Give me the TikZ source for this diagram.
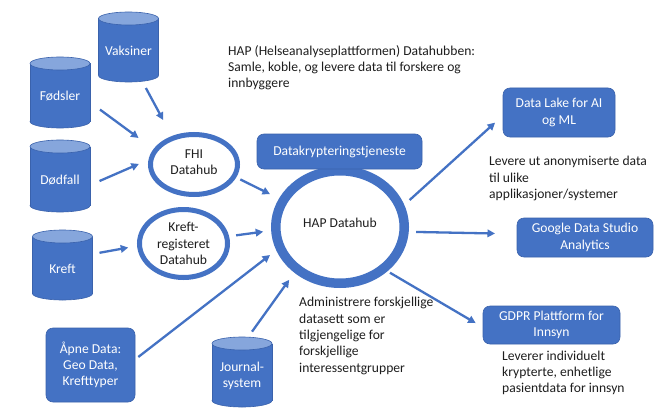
\documentclass[tikz,border=0pt]{standalone}
\usepackage{fontspec}
\setmainfont{Carlito}
\usetikzlibrary{arrows.meta,shapes.geometric}

\definecolor{hubblue}{HTML}{4472C4}
\definecolor{hubedge}{HTML}{3A62AC}
\definecolor{cyltop}{HTML}{86A6DC}
\definecolor{ink}{HTML}{1E1E1E}

\newcommand\txt{\fontsize{13.6}{16.3}\selectfont}

% database cylinder: name, centre x, top y, bottom y, label
\newcommand\dbcyl[5]{%
  \node[cylslot, minimum height={#4-#3}] (#1) at (#2,{(#3+#4)/2}) {};
  \filldraw[cylpart] (#2,{#4-6.5}) ellipse [x radius=30, y radius=6.5];
  \fill[hubblue] ({#2-30},{#3+6.5}) rectangle ({#2+30},{#4-6.5});
  \draw[hubedge, line width=0.6pt] ({#2-30},{#3+6.5}) -- ({#2-30},{#4-6.5})
                                   ({#2+30},{#3+6.5}) -- ({#2+30},{#4-6.5});
  \filldraw[cylpart, fill=cyltop] (#2,{#3+6.5}) ellipse [x radius=30, y radius=6.5];
  \node[celltext] at (#2,{(#3+#4+8)/2}) {#5};
}

\tikzset{
  cylslot/.style={rectangle, minimum width=60pt, inner sep=0pt, outer sep=0pt},
  cylpart/.style={fill=hubblue, draw=hubedge, line width=0.6pt},
  celltext/.style={text=white, align=center, font=\txt, inner sep=0pt},
  bluebox/.style={rectangle, rounded corners=7pt, fill=hubblue, draw=hubedge,
    line width=0.6pt, text=white, align=center, font=\txt, inner sep=0pt, outer sep=0pt},
  ring/.style={ellipse, draw=hubblue, fill=white, inner sep=0pt},
  ringtext/.style={text=ink, align=center, font=\txt, inner sep=0pt},
  note/.style={text=ink, align=left, font=\txt, inner sep=0pt, anchor=west},
  flow/.style={draw=hubblue, line width=2.3pt, -{Triangle[length=7.5pt,width=7.5pt]}},
}

\begin{document}
\begin{tikzpicture}[x=1pt, y=-1pt]
  \fill[white] (0,0) rectangle (660,409);
  \useasboundingbox (0,0) rectangle (660,409);

  % source registers
  \dbcyl{vax}{128.5}{12}{82}{Vaksiner}
  \dbcyl{fod}{60}{57}{128}{Fødsler}
  \dbcyl{dod}{60}{140}{212}{Dødfall}
  \dbcyl{kre}{62.5}{230}{300}{Kreft}
  \dbcyl{jou}{242}{337}{407}{Journal-\\system}

  \node[bluebox, minimum width=89pt, minimum height=74pt] (apne) at (90.5,365)
    {Åpne Data:\\Geo Data,\\Krefttyper};

  % hubs
  \node[ring, line width=5pt, outer sep=2.5pt, minimum width=87pt, minimum height=60pt] (fhi) at (194,164.5) {};
  \node[ringtext] at (194,162) {FHI\\Datahub};
  \node[ring, line width=5pt, outer sep=2.5pt, minimum width=88pt, minimum height=68pt] (krg) at (183.5,243.5) {};
  \node[ringtext] at (183.5,243.6) {Kreft-\\registeret\\Datahub};
  \node[ring, line width=9.5pt, outer sep=4.75pt, minimum width=128.5pt, minimum height=112.5pt] (hap) at (340,227) {};
  \node[ringtext] at (340,223) {HAP Datahub};

  \node[bluebox, minimum width=165pt, minimum height=35pt] (krypt) at (339.5,151.5) {Datakrypteringstjeneste};

  % consumers
  \node[bluebox, minimum width=112pt, minimum height=49pt] (dlk) at (559,112.5) {Data Lake for AI\\og ML};
  \node[bluebox, minimum width=136pt, minimum height=39pt] (gds) at (585,237.5) {Google Data Studio\\Analytics};
  \node[bluebox, minimum width=137pt, minimum height=38pt] (gdpr) at (551.5,325) {GDPR Plattform for\\Innsyn};

  % descriptions
  \node[note] (head) at (228,67.5) {HAP (Helseanalyseplattformen) Datahubben:\\Samle, koble, og levere data til forskere og\\innbyggere};
  \node[note] (lev) at (489,178.5) {Levere ut anonymiserte data\\til ulike\\applikasjoner/systemer};
  \node[note] (adm) at (299,336) {Administrere forskjellige\\datasett som er\\tilgjengelige for\\forskjellige\\interessentgrupper};
  \node[note] (ind) at (502,373) {Leverer individuelt\\krypterte, enhetlige\\pasientdata for innsyn};

  % data flows
  \draw[flow, shorten <=6.8pt, shorten >=18.2pt] (vax.-68) -- (fhi.128);
  \draw[flow, shorten <=12.4pt, shorten >=18.6pt] (fod.-18.6) -- (fhi.159.6);
  \draw[flow, shorten <=10.4pt, shorten >=10.5pt] (dod.-17.7) -- (fhi.174.6);
  \draw[flow, shorten <=4.6pt, shorten >=10pt] (fhi.-17.9) -- (hap.155);
  \draw[flow, shorten <=7.1pt, shorten >=9pt] (kre.20) -- (krg.183);
  \draw[flow, shorten <=7.1pt, shorten >=8pt] (krg.9.5) -- (hap.183);
  \draw[flow, shorten <=4.2pt, shorten >=7.8pt] (apne.7.3) -- (hap.200);
  \draw[flow, shorten <=6.6pt, shorten >=8.8pt] (jou.80.6) -- (hap.225);
  \draw[flow, shorten <=7.2pt, shorten >=10.7pt] (hap.19.7) -- (dlk.183.2);
  \draw[flow, shorten <=7.25pt, shorten >=22pt] (hap.-4.2) -- (gds.177.8);
  \draw[flow, shorten <=2.9pt, shorten >=8.5pt] (hap.-43) -- (gdpr.182.2);
\end{tikzpicture}
\end{document}
